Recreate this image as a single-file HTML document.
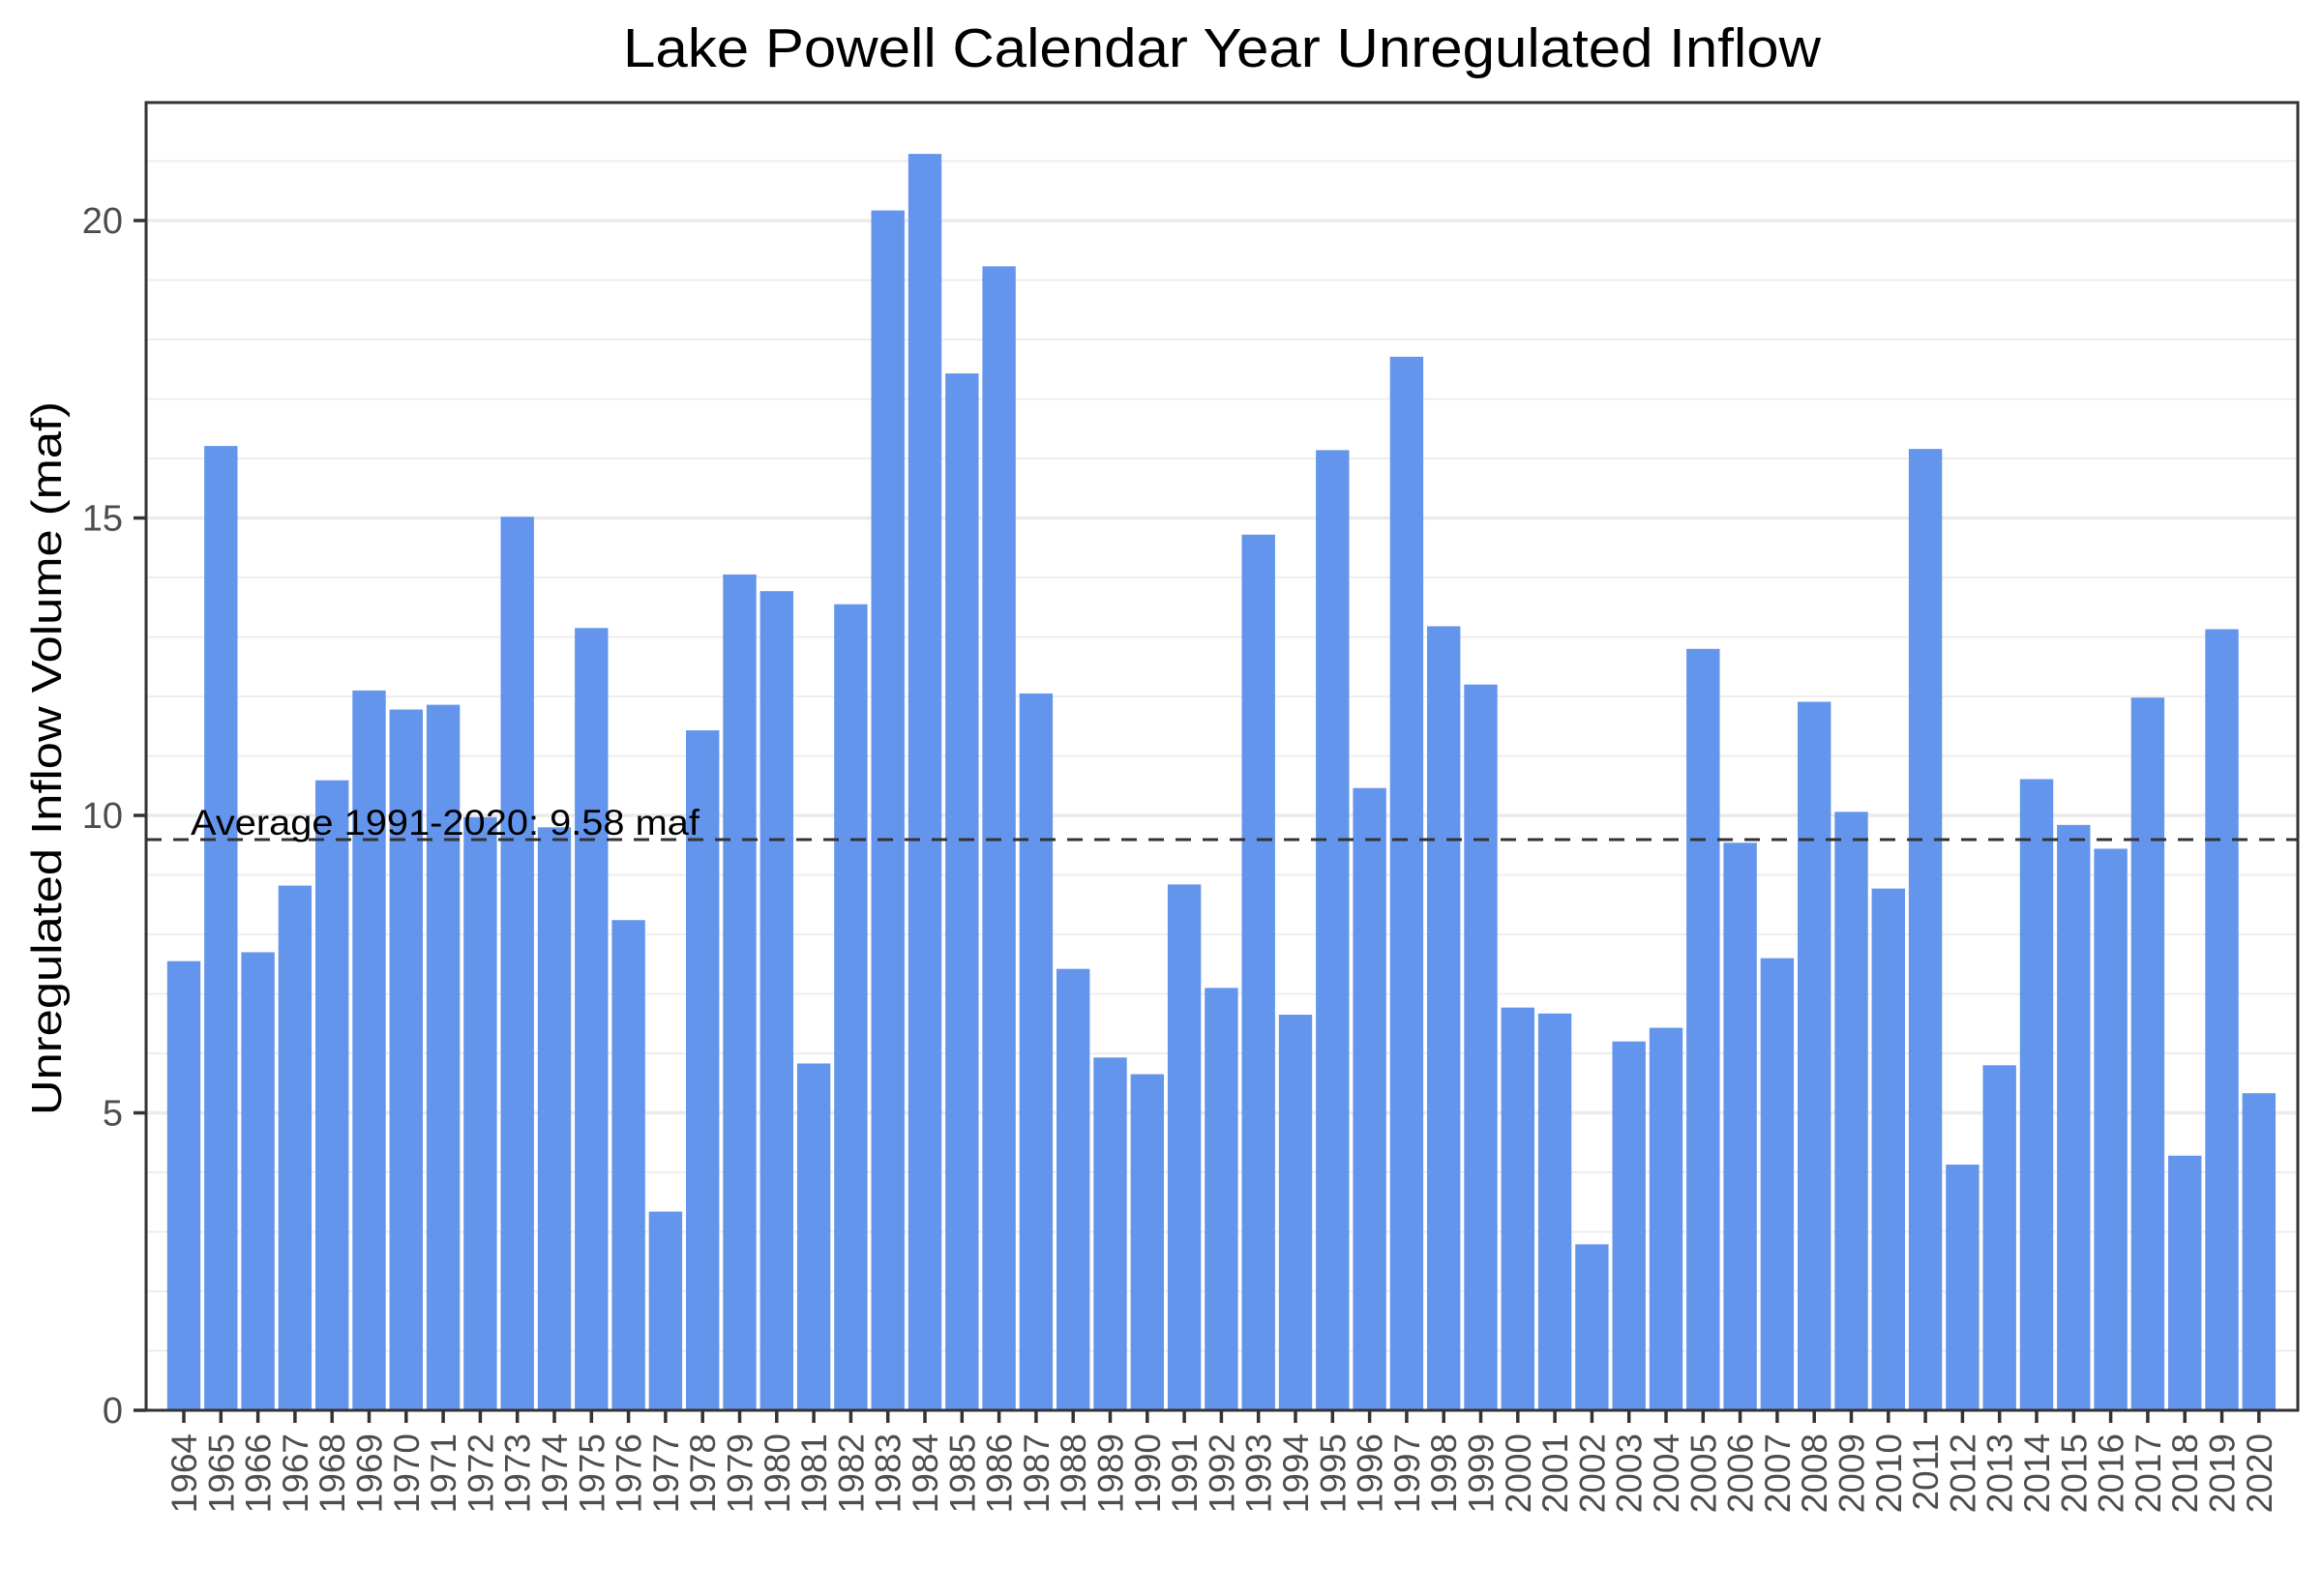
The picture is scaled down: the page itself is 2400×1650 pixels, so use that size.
<!DOCTYPE html>
<html><head><meta charset="utf-8"><style>html,body{margin:0;padding:0;background:#fff}svg{display:block}</style></head>
<body>
<svg id="s" width="2400" height="1650" xmlns="http://www.w3.org/2000/svg" font-family="Liberation Sans, Arial, sans-serif">
<rect width="2400" height="1650" fill="#fff"/>
<g id="grid"></g>
<g id="bars"></g>
<line x1="151" y1="868" x2="2375" y2="868" stroke="#333" stroke-width="3" stroke-dasharray="16,12"/>
<text x="197" y="863" font-size="37" fill="#000" textLength="526" lengthAdjust="spacingAndGlyphs">Average 1991-2020: 9.58 maf</text>
<rect x="151" y="106" width="2224" height="1352" fill="none" stroke="#333" stroke-width="3"/>
<g id="ax"></g>
<text x="644" y="69" font-size="57" fill="#000" textLength="1238" lengthAdjust="spacingAndGlyphs">Lake Powell Calendar Year Unregulated Inflow</text>
<text transform="translate(63,784) rotate(-90)" text-anchor="middle" font-size="44" fill="#000" textLength="738" lengthAdjust="spacingAndGlyphs">Unregulated Inflow Volume (maf)</text>
</svg>
<script>
var vals=[7.55,16.21,7.70,8.82,10.59,12.10,11.78,11.86,9.97,15.02,9.80,13.15,8.24,3.34,11.43,14.05,13.77,5.83,13.55,20.17,21.12,17.43,19.23,12.05,7.42,5.93,5.65,8.84,7.10,14.72,6.65,16.14,10.46,17.71,13.18,12.20,6.77,6.67,2.79,6.20,6.43,12.80,9.54,7.60,11.91,10.06,8.77,16.16,4.13,5.80,10.61,9.84,9.44,11.98,4.28,13.13,5.33];
var NS="http://www.w3.org/2000/svg";
function el(p,t,a,txt){var e=document.createElementNS(NS,t);for(var k in a)e.setAttribute(k,a[k]);if(txt!=null)e.textContent=txt;document.getElementById(p).appendChild(e);}
var y0=1458,u=61.5;
for(var v=0;v<=21;v++){var y=y0-v*u;var maj=v%5==0;el("grid","line",{x1:151,x2:2375,y1:y,y2:y,stroke:"#EBEBEB","stroke-width":maj?3.5:1.8});
if(maj){el("ax","line",{x1:138,x2:151,y1:y,y2:y,stroke:"#333","stroke-width":3.5});el("ax","text",{x:127,y:y+13,"text-anchor":"end","font-size":38,fill:"#4D4D4D"},String(v));}}
for(var i=0;i<vals.length;i++){var cx=190+38.3*i;var h=vals[i]*u;
el("bars","rect",{x:cx-17.2,y:y0-h,width:34.4,height:h,fill:"#6495ED"});
el("ax","line",{x1:cx,x2:cx,y1:1458,y2:1471,stroke:"#333","stroke-width":3.5});
el("ax","text",{transform:"translate("+(cx+13)+",1482) rotate(-90)","text-anchor":"end","font-size":37,fill:"#4D4D4D"},String(1964+i));}
</script>
</body></html>
